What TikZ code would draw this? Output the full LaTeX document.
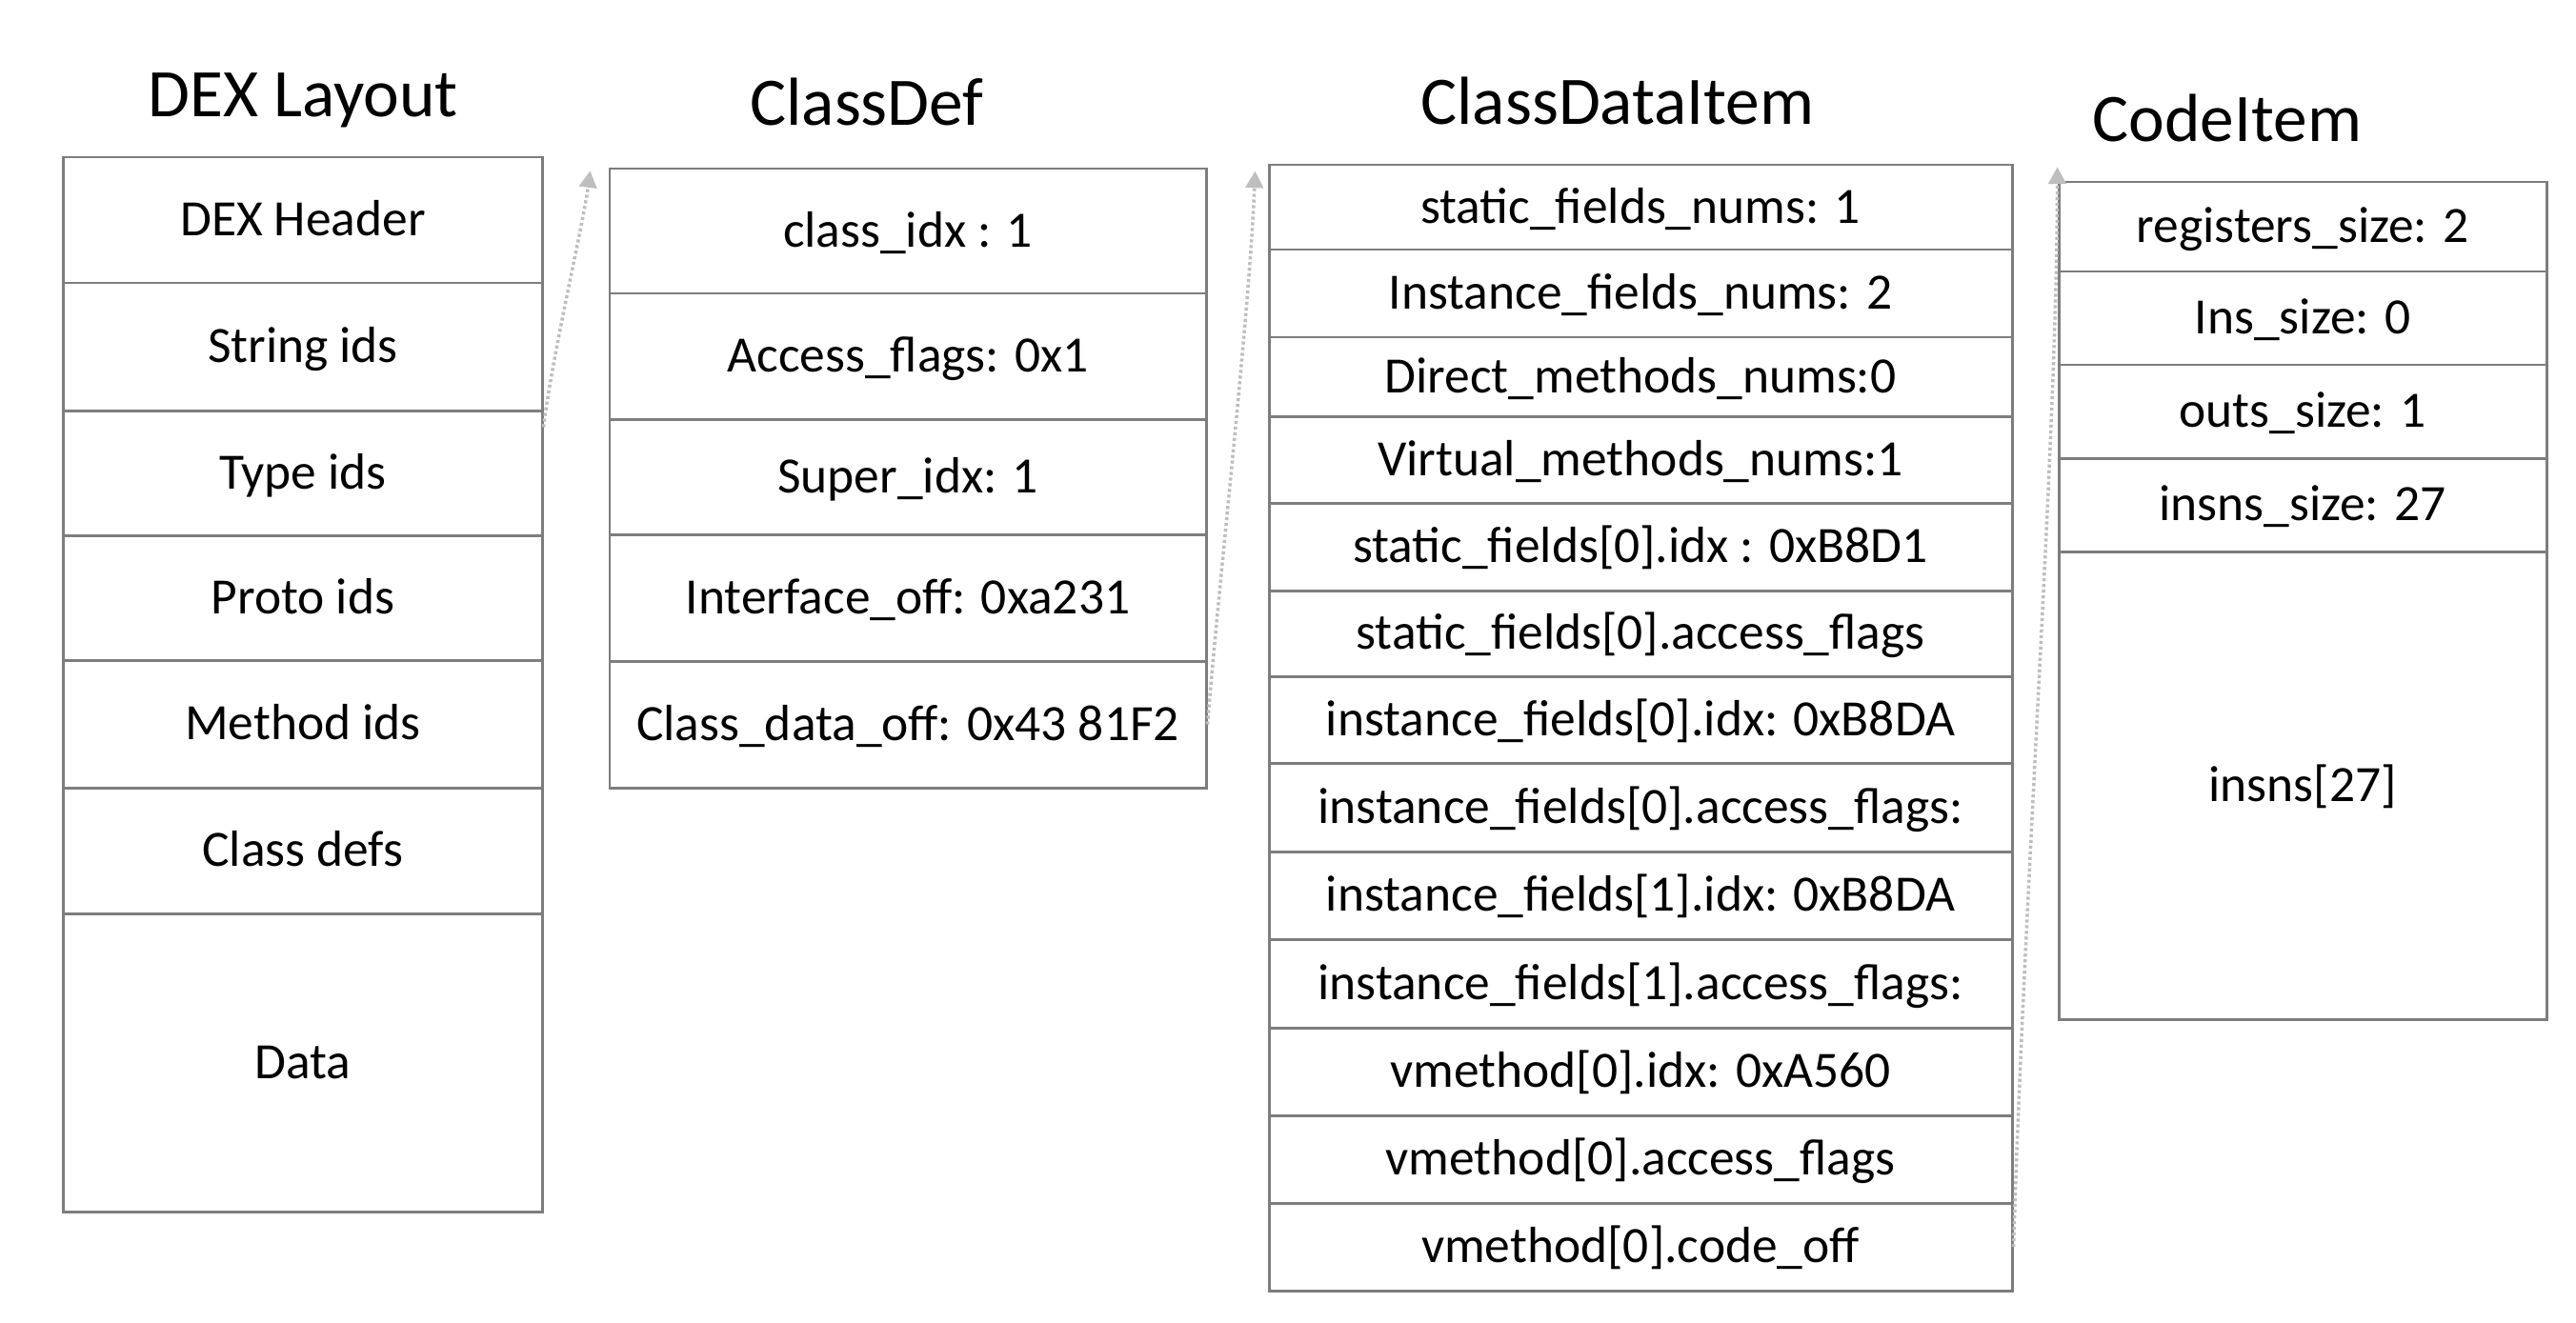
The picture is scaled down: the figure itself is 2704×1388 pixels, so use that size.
\documentclass[tikz,border=0pt]{standalone}
\usepackage{fontspec}
\setmainfont{Carlito}
\usetikzlibrary{arrows.meta}
\definecolor{boxline}{RGB}{125,125,125}
\definecolor{conngray}{RGB}{190,190,190}
\newcommand\rowfont{\fontsize{15.2}{18}\selectfont}
\newcommand\titlefont{\fontsize{20.3}{24}\selectfont}
\newcommand\cellbox[6]{%
  \pgfmathsetmacro\cx{(#2+#4)/2}\pgfmathsetmacro\cy{(#3+#5)/2}%
  \pgfmathsetmacro\cw{(#4-#2)*0.01}\pgfmathsetmacro\ch{(#5-#3)*0.01}%
  \node[cell, minimum width=\cw cm, minimum height=\ch cm] (#1) at (\cx,\cy) {#6};}
\begin{document}
\begin{tikzpicture}[x=0.01cm,y=-0.01cm,
  cell/.style={draw=boxline, line width=0.85pt, inner sep=0pt, text height=9.6pt, text depth=0pt, font=\rowfont, rectangle},
  title/.style={anchor=base, inner sep=0pt, font=\titlefont},
  conn/.style={draw=conngray, line width=1pt, dash pattern=on 0.9pt off 0.8pt, -{Triangle[width=5.2pt,length=5pt,fill=conngray]}}]
\useasboundingbox (0,0) rectangle (2704,1388);
\fill[white] (0,0) rectangle (2704,1388);
% titles
\node[title] (t1) at (318,123) {DEX Layout};
\node[title] (t2) at (910,132) {ClassDef};
\node[title] (t3) at (1698,130) {ClassDataItem};
\node[title] (t4) at (2338,149) {CodeItem};
% DEX layout
\cellbox{d1}{67}{165}{569}{297}{DEX Header}
\cellbox{d2}{67}{297}{569}{431}{String ids}
\cellbox{d3}{67}{431}{569}{562}{Type ids}
\cellbox{d4}{67}{562}{569}{693}{Proto ids}
\cellbox{d5}{67}{693}{569}{827}{Method ids}
\cellbox{d6}{67}{827}{569}{959}{Class defs}
\cellbox{d7}{67}{959}{569}{1272}{Data}
% ClassDef
\cellbox{c1}{640}{177}{1266}{308}{class\_idx : 1}
\cellbox{c2}{640}{308}{1266}{440}{Access\_flags: 0x1}
\cellbox{c3}{640}{440}{1266}{561}{Super\_idx: 1}
\cellbox{c4}{640}{561}{1266}{694}{Interface\_off: 0xa231}
\cellbox{c5}{640}{694}{1266}{827}{Class\_data\_off: 0x43 81F2}
% ClassDataItem
\cellbox{k1}{1332}{173}{2112}{262}{static\_fields\_nums: 1}
\cellbox{k2}{1332}{262}{2112}{354}{Instance\_fields\_nums: 2}
\cellbox{k3}{1332}{354}{2112}{437}{Direct\_methods\_nums:0}
\cellbox{k4}{1332}{437}{2112}{528}{Virtual\_methods\_nums:1}
\cellbox{k5}{1332}{528}{2112}{620}{static\_fields[0].idx : 0xB8D1}
\cellbox{k6}{1332}{620}{2112}{710}{static\_fields[0].access\_flags}
\cellbox{k7}{1332}{710}{2112}{801}{instance\_fields[0].idx: 0xB8DA}
\cellbox{k8}{1332}{801}{2112}{894}{instance\_fields[0].access\_flags:}
\cellbox{k9}{1332}{894}{2112}{986}{instance\_fields[1].idx: 0xB8DA}
\cellbox{k10}{1332}{986}{2112}{1079}{instance\_fields[1].access\_flags:}
\cellbox{k11}{1332}{1079}{2112}{1171}{vmethod[0].idx: 0xA560}
\cellbox{k12}{1332}{1171}{2112}{1263}{vmethod[0].access\_flags}
\cellbox{k13}{1332}{1263}{2112}{1355}{vmethod[0].code\_off}
% CodeItem
\cellbox{m1}{2161}{191}{2673}{285}{registers\_size: 2}
\cellbox{m2}{2161}{285}{2673}{383}{Ins\_size: 0}
\cellbox{m3}{2161}{383}{2673}{481}{outs\_size: 1}
\cellbox{m4}{2161}{481}{2673}{579}{insns\_size: 27}
\cellbox{m5}{2161}{579}{2673}{1070}{insns[27]}
% connectors
\draw[conn] ([yshift=-5.4pt]d3.north east) .. controls +(10,-80) and +(-8,60) .. ([xshift=-5.4pt,yshift=-1.1pt]c1.north west);
\draw[conn] (c5.east) .. controls +(12,-150) and +(-6,150) .. ([xshift=-3.7pt,yshift=-2.3pt]k1.north west);
\draw[conn] (k13.east) .. controls +(13,-409) and +(0,273) .. ([yshift=4pt]m1.north west);
\end{tikzpicture}
\end{document}
